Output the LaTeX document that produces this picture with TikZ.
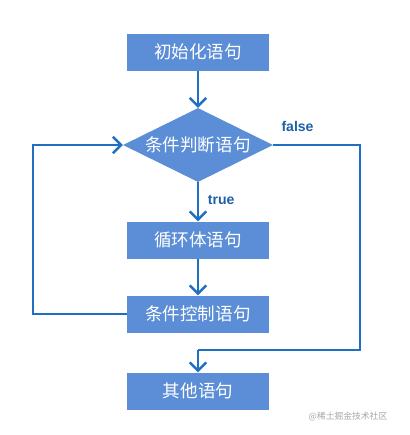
\documentclass[tikz,border=0pt]{standalone}
\usepackage{fontspec}
\newfontfamily\cjk{Noto Sans CJK SC}
\setmainfont{Liberation Sans}
\usetikzlibrary{arrows.meta,shapes.geometric}
\definecolor{boxblue}{HTML}{5B8ED6}
\definecolor{lineblue}{HTML}{1F70C1}
\definecolor{labelblue}{HTML}{1F5FA8}

\tikzset{
  stmt/.style={draw=none, fill=boxblue, text=white, minimum width=4.26cm,
    minimum height=1.11cm, inner sep=0pt, font=\cjk\fontsize{15}{17}\selectfont},
  cond/.style={diamond, fill=boxblue, text=white, minimum width=4.5cm,
    minimum height=2.22cm, inner sep=0pt, aspect=2, font=\cjk\fontsize{15}{17}\selectfont},
  flow/.style={draw=lineblue, line width=2.2pt, -{Straight Barb[length=7pt,width=14pt,line width=2pt]}},
  link/.style={draw=lineblue, line width=2.2pt},
  tag/.style={text=labelblue, font=\bfseries\fontsize{12}{14}\selectfont}
}

\begin{document}
\begin{tikzpicture}[x=0.03cm, y=-0.03cm]
\useasboundingbox (0,0) rectangle (410,435);
\node[stmt] (init) at (198,52) {初始化语句};
\node[cond] (test) at (198,145) {条件判断语句};
\node[stmt] (body) at (198,240) {循环体语句};
\node[stmt] (step) at (198,314) {条件控制语句};
\node[stmt] (rest) at (198,391) {其他语句};
\coordinate (jn) at (198,350);

\draw[flow] (init) -- (test);
\draw[flow] (test) -- node[tag, right, pos=0.45, xshift=4pt] {true} (body);
\draw[flow] (body) -- (step);
\draw[flow] (step.west) -- (33,314) -- (33,145) -- (test.west);
\draw[link] (test.east) -- node[tag, above, pos=0.28, yshift=7pt] {false} (360,145) -- (360,350) -- (jn);
\draw[flow] (jn) -- (rest);

\node[text=gray!70, font=\cjk\fontsize{7.5}{9}\selectfont] (mark) at (348,417) {@稀土掘金技术社区};
\end{tikzpicture}
\end{document}
